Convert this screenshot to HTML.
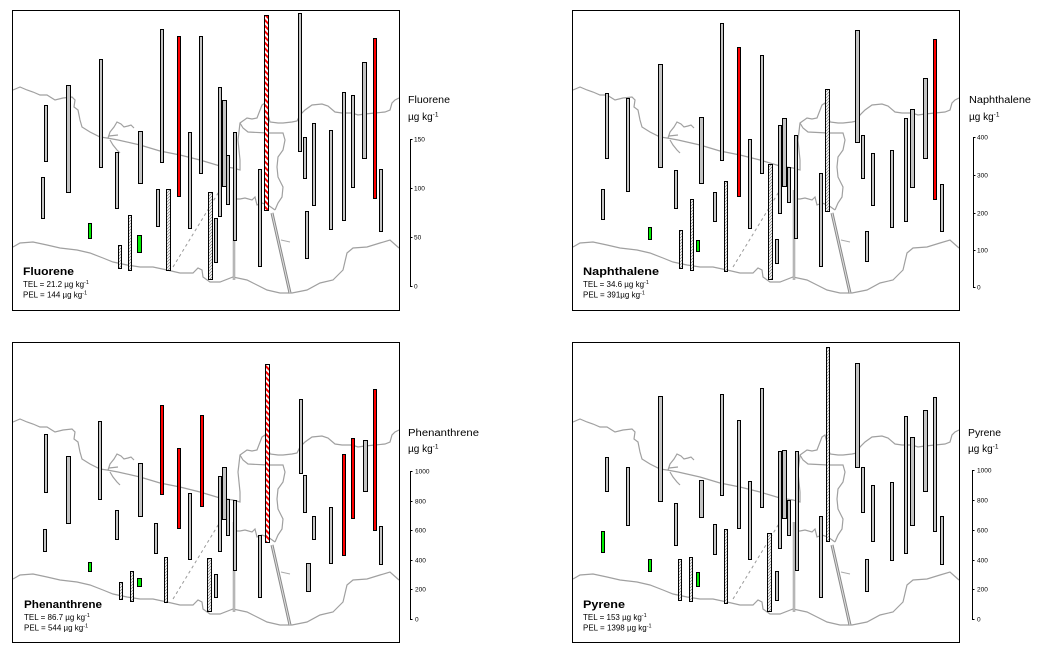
<!DOCTYPE html>
<html><head><meta charset="utf-8"><style>
html,body{margin:0;padding:0;background:#fff;}
svg{display:block;font-family:"Liberation Sans",Arial,sans-serif;}
.g{fill:#c4c4c4;stroke:#000;stroke-width:1}
.r{fill:#ff0000;stroke:#000;stroke-width:1}
.gr{fill:#00ee00;stroke:#000;stroke-width:1}
.h{fill:url(#hatch);stroke:#000;stroke-width:1}
.rh{fill:url(#rhatch);stroke:#000;stroke-width:1}
.map{fill:none;stroke:#a0a0a0;stroke-width:1.2}
.box{fill:none;stroke:#000;stroke-width:1}
.sc{fill:none;stroke:#000;stroke-width:1}
.tk{font-size:6.5px;fill:#000}
.ttl{font-size:11px;font-weight:bold;fill:#000}
.sm{font-size:8px;fill:#000}
.lab{font-size:10px;fill:#000}
</style></head><body>
<svg width="1041" height="659" viewBox="0 0 1041 659" xmlns="http://www.w3.org/2000/svg">
<defs>
<pattern id="hatch" patternUnits="userSpaceOnUse" width="3" height="3">
<rect width="3" height="3" fill="#fff"/>
<path d="M-1,1 L1,-1 M0,3 L3,0 M2,4 L4,2" stroke="#8a8a8a" stroke-width="0.8"/>
</pattern>
<pattern id="rhatch" patternUnits="userSpaceOnUse" width="4" height="4" patternTransform="rotate(-45)">
<rect width="4" height="4" fill="#fff"/>
<rect width="2" height="4" fill="#ff0000"/>
</pattern>
<g id="map">
<path class="map" d="M13,90 L20,87 L27,90 L33,92 L40,95 L47,95 L55,100 L63,98 L72,97 L75,100 L74,107 L78,110 L80,120 L82,127 L90,132 L100,137 L107,138 L118,140 L140,145 L160,151 L180,155 L200,160 L220,166 L233,168 L240,170 L240,160 L238,140 L240,123 L247,118 L252,119 L257,118 L262,105 L265,103 L270,122 L278,123 L283,123 L292,122 L297,121 L300,115 L305,110 L312,105 L322,104 L328,106 L335,112 L342,113 L352,113 L358,115 L365,114 L375,113 L385,112 L390,110 L392,103 L395,100 L399,98"/>
<path class="map" d="M108,138 L110,132 L114,127 L117,122 L121,124 L124,127 L128,126 L131,125 L134,128 M110,140 L113,145 L117,150 L120,153 M109,136 L118,135"/>
<path class="map" d="M240,123 L243,128 L248,132 L268,133 L283,133 L285,140 L283,150 L278,157 L277,167 L278,177 L283,187 L282,197 L278,203 L275,210"/>
<path class="map" d="M233,199 L240,199 L245,198 L252,200 L255,197 L257,205 L262,203 L268,205 L275,210"/>
<path class="map" d="M13,247 L20,243 L33,242 L47,245 L60,248 L77,250 L90,253 L103,258 L113,262 L127,265 L140,267 L153,267 L167,270 L180,273 L193,273 L198,268 L202,270 L203,277 L210,282 L220,282 L233,277 L247,280 L257,285 L267,290 L280,293 L292,293 L307,290 L320,283 L333,280 L343,270 L347,253 L353,248 L367,247 L380,243 L390,240 L399,248"/>
<path d="M173,267 L220,190" stroke="#999" stroke-width="1" stroke-dasharray="3,3" fill="none"/>
<path d="M234,190 L234,280" stroke="#a0a0a0" stroke-width="2.5" fill="none"/>
<path d="M234,190 L234,280" stroke="#d8d8d8" stroke-width="0.8" fill="none"/>
<path d="M272,213 L290,293" stroke="#8a8a8a" stroke-width="3" fill="none"/>
<path d="M272,213 L290,293" stroke="#e0e0e0" stroke-width="1" fill="none"/>
<path d="M281,240 L290,242" stroke="#aaa" stroke-width="1" fill="none"/>
</g>
</defs>
<rect width="1041" height="659" fill="#fff"/>

<use href="#map"/>
<use href="#map" transform="translate(560,0)"/>
<use href="#map" transform="translate(0,332)"/>
<use href="#map" transform="translate(560,332)"/>

<rect class="box" x="12.5" y="10.5" width="387" height="300"/>
<rect class="box" x="572.5" y="10.5" width="387" height="300"/>
<rect class="box" x="12.5" y="342.5" width="387" height="300"/>
<rect class="box" x="572.5" y="342.5" width="387" height="300"/>

<!-- Panel 1 bars -->
<g>
<rect class="g" x="44.5" y="105.5" width="3" height="56"/>
<rect class="g" x="41.5" y="177.5" width="3" height="41"/>
<rect class="g" x="66.5" y="85.5" width="4" height="107"/>
<rect class="g" x="99.5" y="59.5" width="3" height="108"/>
<rect class="g" x="115.5" y="152.5" width="3" height="56"/>
<rect class="g" x="138.5" y="131.5" width="4" height="52"/>
<rect class="g" x="160.5" y="29.5" width="3" height="133"/>
<rect class="g" x="199.5" y="36.5" width="3" height="137"/>
<rect class="g" x="188.5" y="132.5" width="3" height="96"/>
<rect class="g" x="156.5" y="189.5" width="3" height="37"/>
<rect class="g" x="214.5" y="218.5" width="3" height="44"/>
<rect class="g" x="218.5" y="87.5" width="3" height="129"/>
<rect class="g" x="222.5" y="100.5" width="4" height="86"/>
<rect class="g" x="226.5" y="155.5" width="3" height="49"/>
<rect class="g" x="233.5" y="132.5" width="3" height="108"/>
<rect class="g" x="258.5" y="169.5" width="3" height="97"/>
<rect class="g" x="298.5" y="13.5" width="3" height="138"/>
<rect class="g" x="303.5" y="137.5" width="3" height="41"/>
<rect class="g" x="305.5" y="211.5" width="3" height="47"/>
<rect class="g" x="312.5" y="123.5" width="3" height="82"/>
<rect class="g" x="329.5" y="130.5" width="3" height="99"/>
<rect class="g" x="342.5" y="92.5" width="3" height="128"/>
<rect class="g" x="351.5" y="95.5" width="3" height="92"/>
<rect class="g" x="362.5" y="62.5" width="4" height="96"/>
<rect class="g" x="379.5" y="169.5" width="3" height="62"/>
<rect class="r" x="177.5" y="36.5" width="3" height="160"/>
<rect class="r" x="373.5" y="38.5" width="3" height="160"/>
<rect class="gr" x="88.5" y="223.5" width="3" height="15"/>
<rect class="gr" x="137.5" y="235.5" width="4" height="17"/>
<rect class="h" x="118.5" y="245.5" width="3" height="23"/>
<rect class="h" x="128.5" y="215.5" width="3" height="55"/>
<rect class="h" x="166.5" y="189.5" width="4" height="81"/>
<rect class="h" x="208.5" y="192.5" width="4" height="87"/>
<rect class="rh" x="264.5" y="15.5" width="4" height="195"/>
</g>

<!-- Panel 2 bars -->
<g>
<rect class="g" x="605.5" y="93.5" width="3" height="65"/>
<rect class="g" x="601.5" y="189.5" width="3" height="30"/>
<rect class="g" x="626.5" y="98.5" width="3" height="93"/>
<rect class="g" x="658.5" y="64.5" width="4" height="103"/>
<rect class="g" x="674.5" y="170.5" width="3" height="38"/>
<rect class="g" x="699.5" y="117.5" width="4" height="66"/>
<rect class="g" x="713.5" y="192.5" width="3" height="29"/>
<rect class="g" x="720.5" y="23.5" width="3" height="137"/>
<rect class="g" x="748.5" y="139.5" width="3" height="89"/>
<rect class="g" x="760.5" y="55.5" width="3" height="118"/>
<rect class="g" x="775.5" y="239.5" width="3" height="24"/>
<rect class="g" x="778.5" y="125.5" width="3" height="88"/>
<rect class="g" x="782.5" y="118.5" width="4" height="68"/>
<rect class="g" x="787.5" y="167.5" width="3" height="35"/>
<rect class="g" x="794.5" y="135.5" width="3" height="103"/>
<rect class="g" x="819.5" y="173.5" width="3" height="93"/>
<rect class="g" x="855.5" y="30.5" width="4" height="112"/>
<rect class="g" x="861.5" y="135.5" width="3" height="43"/>
<rect class="g" x="865.5" y="231.5" width="3" height="30"/>
<rect class="g" x="871.5" y="153.5" width="3" height="52"/>
<rect class="g" x="890.5" y="150.5" width="3" height="77"/>
<rect class="g" x="904.5" y="118.5" width="3" height="103"/>
<rect class="g" x="910.5" y="109.5" width="4" height="78"/>
<rect class="g" x="923.5" y="78.5" width="4" height="80"/>
<rect class="g" x="940.5" y="184.5" width="3" height="47"/>
<rect class="r" x="737.5" y="47.5" width="3" height="149"/>
<rect class="r" x="933.5" y="39.5" width="3" height="160"/>
<rect class="gr" x="648.5" y="227.5" width="3" height="12"/>
<rect class="gr" x="696.5" y="240.5" width="3" height="11"/>
<rect class="h" x="679.5" y="230.5" width="3" height="38"/>
<rect class="h" x="690.5" y="199.5" width="3" height="71"/>
<rect class="h" x="724.5" y="181.5" width="3" height="90"/>
<rect class="h" x="768.5" y="164.5" width="4" height="115"/>
<rect class="h" x="825.5" y="89.5" width="4" height="122"/>
</g>

<!-- Panel 3 bars -->
<g>
<rect class="g" x="44.5" y="434.5" width="3" height="58"/>
<rect class="g" x="43.5" y="529.5" width="3" height="22"/>
<rect class="g" x="66.5" y="456.5" width="4" height="67"/>
<rect class="g" x="98.5" y="421.5" width="3" height="78"/>
<rect class="g" x="115.5" y="510.5" width="3" height="29"/>
<rect class="g" x="138.5" y="463.5" width="4" height="53"/>
<rect class="g" x="154.5" y="523.5" width="3" height="30"/>
<rect class="g" x="188.5" y="493.5" width="3" height="66"/>
<rect class="g" x="214.5" y="574.5" width="3" height="23"/>
<rect class="g" x="218.5" y="476.5" width="3" height="75"/>
<rect class="g" x="222.5" y="467.5" width="4" height="52"/>
<rect class="g" x="226.5" y="499.5" width="3" height="36"/>
<rect class="g" x="233.5" y="500.5" width="3" height="70"/>
<rect class="g" x="258.5" y="535.5" width="3" height="62"/>
<rect class="g" x="299.5" y="399.5" width="3" height="74"/>
<rect class="g" x="303.5" y="475.5" width="3" height="37"/>
<rect class="g" x="306.5" y="563.5" width="4" height="28"/>
<rect class="g" x="312.5" y="516.5" width="3" height="23"/>
<rect class="g" x="329.5" y="507.5" width="3" height="56"/>
<rect class="g" x="363.5" y="440.5" width="4" height="51"/>
<rect class="g" x="379.5" y="526.5" width="3" height="38"/>
<rect class="r" x="160.5" y="405.5" width="3" height="89"/>
<rect class="r" x="177.5" y="448.5" width="3" height="80"/>
<rect class="r" x="200.5" y="415.5" width="3" height="91"/>
<rect class="r" x="342.5" y="454.5" width="3" height="101"/>
<rect class="r" x="351.5" y="438.5" width="3" height="80"/>
<rect class="r" x="373.5" y="389.5" width="3" height="141"/>
<rect class="gr" x="88.5" y="562.5" width="3" height="9"/>
<rect class="gr" x="137.5" y="578.5" width="4" height="8"/>
<rect class="h" x="119.5" y="582.5" width="3" height="17"/>
<rect class="h" x="130.5" y="571.5" width="3" height="30"/>
<rect class="h" x="164.5" y="557.5" width="3" height="45"/>
<rect class="h" x="207.5" y="558.5" width="4" height="53"/>
<rect class="rh" x="265.5" y="364.5" width="4" height="178"/>
</g>

<!-- Panel 4 bars -->
<g>
<rect class="g" x="605.5" y="457.5" width="3" height="34"/>
<rect class="g" x="626.5" y="467.5" width="3" height="58"/>
<rect class="g" x="658.5" y="396.5" width="4" height="105"/>
<rect class="g" x="674.5" y="503.5" width="3" height="42"/>
<rect class="g" x="699.5" y="480.5" width="4" height="37"/>
<rect class="g" x="713.5" y="524.5" width="3" height="30"/>
<rect class="g" x="720.5" y="394.5" width="3" height="101"/>
<rect class="g" x="737.5" y="420.5" width="3" height="108"/>
<rect class="g" x="748.5" y="481.5" width="3" height="78"/>
<rect class="g" x="760.5" y="388.5" width="3" height="119"/>
<rect class="g" x="775.5" y="571.5" width="3" height="29"/>
<rect class="g" x="778.5" y="451.5" width="3" height="97"/>
<rect class="g" x="782.5" y="450.5" width="4" height="68"/>
<rect class="g" x="787.5" y="500.5" width="3" height="35"/>
<rect class="g" x="795.5" y="451.5" width="3" height="119"/>
<rect class="g" x="819.5" y="516.5" width="3" height="81"/>
<rect class="g" x="855.5" y="363.5" width="4" height="104"/>
<rect class="g" x="861.5" y="467.5" width="3" height="45"/>
<rect class="g" x="865.5" y="559.5" width="3" height="32"/>
<rect class="g" x="871.5" y="485.5" width="3" height="56"/>
<rect class="g" x="890.5" y="482.5" width="3" height="78"/>
<rect class="g" x="904.5" y="416.5" width="3" height="137"/>
<rect class="g" x="910.5" y="437.5" width="4" height="88"/>
<rect class="g" x="923.5" y="410.5" width="4" height="81"/>
<rect class="g" x="933.5" y="397.5" width="3" height="134"/>
<rect class="g" x="940.5" y="516.5" width="3" height="48"/>
<rect class="gr" x="601.5" y="531.5" width="3" height="21"/>
<rect class="gr" x="648.5" y="559.5" width="3" height="12"/>
<rect class="gr" x="696.5" y="572.5" width="3" height="14"/>
<rect class="h" x="678.5" y="559.5" width="3" height="41"/>
<rect class="h" x="689.5" y="557.5" width="3" height="44"/>
<rect class="h" x="724.5" y="529.5" width="3" height="74"/>
<rect class="h" x="767.5" y="533.5" width="4" height="78"/>
<rect class="h" x="826.5" y="347.5" width="3" height="194"/>
</g>

<!-- Scales -->
<path class="sc" d="M412.5,139.5H410.5V286.5H412.5M410.5,188.5H412.5M410.5,237.5H412.5"/>
<text class="tk" x="414" y="141.5">150</text>
<text class="tk" x="414" y="190.5">100</text>
<text class="tk" x="414" y="239.5">50</text>
<text class="tk" x="414" y="288.5">0</text>

<path class="sc" d="M975.5,137.5H973.5V287.5H975.5M973.5,175.5H975.5M973.5,213.5H975.5M973.5,250.5H975.5"/>
<text class="tk" x="977" y="139.5">400</text>
<text class="tk" x="977" y="177.5">300</text>
<text class="tk" x="977" y="215.5">200</text>
<text class="tk" x="977" y="252.5">100</text>
<text class="tk" x="977" y="289.5">0</text>

<path class="sc" d="M412.5,471.5H410.5V619.5H412.5M410.5,501.5H412.5M410.5,530.5H412.5M410.5,560.5H412.5M410.5,589.5H412.5"/>
<text class="tk" x="415" y="473.5">1000</text>
<text class="tk" x="415" y="503.5">800</text>
<text class="tk" x="415" y="532.5">600</text>
<text class="tk" x="415" y="562.5">400</text>
<text class="tk" x="415" y="591.5">200</text>
<text class="tk" x="415" y="621.5">0</text>

<path class="sc" d="M974.5,470.5H972.5V619.5H974.5M972.5,500.5H974.5M972.5,530.5H974.5M972.5,560.5H974.5M972.5,589.5H974.5"/>
<text class="tk" x="977" y="472.5">1000</text>
<text class="tk" x="977" y="502.5">800</text>
<text class="tk" x="977" y="532.5">600</text>
<text class="tk" x="977" y="562.5">400</text>
<text class="tk" x="977" y="591.5">200</text>
<text class="tk" x="977" y="621.5">0</text>

<!-- Right labels -->
<text class="lab" x="408" y="103" textLength="42" lengthAdjust="spacingAndGlyphs">Fluorene</text>
<text class="lab" x="408" y="120">µg kg<tspan font-size="6.5" dy="-3.5">-1</tspan></text>
<text class="lab" x="969" y="103" textLength="62" lengthAdjust="spacingAndGlyphs">Naphthalene</text>
<text class="lab" x="969" y="120">µg kg<tspan font-size="6.5" dy="-3.5">-1</tspan></text>
<text class="lab" x="408" y="436" textLength="71" lengthAdjust="spacingAndGlyphs">Phenanthrene</text>
<text class="lab" x="408" y="452">µg kg<tspan font-size="6.5" dy="-3.5">-1</tspan></text>
<text class="lab" x="968" y="436" textLength="33" lengthAdjust="spacingAndGlyphs">Pyrene</text>
<text class="lab" x="968" y="452">µg kg<tspan font-size="6.5" dy="-3.5">-1</tspan></text>

<!-- Bottom-left labels -->
<text class="ttl" x="23" y="275" textLength="51" lengthAdjust="spacingAndGlyphs">Fluorene</text>
<text class="sm" x="23" y="287">TEL = 21.2 µg kg<tspan font-size="5.5" dy="-3">-1</tspan></text>
<text class="sm" x="23" y="297.5">PEL = 144 µg kg<tspan font-size="5.5" dy="-3">-1</tspan></text>

<text class="ttl" x="583" y="275" textLength="76" lengthAdjust="spacingAndGlyphs">Naphthalene</text>
<text class="sm" x="583" y="287">TEL = 34.6 µg kg<tspan font-size="5.5" dy="-3">-1</tspan></text>
<text class="sm" x="583" y="297.5">PEL = 391µg kg<tspan font-size="5.5" dy="-3">-1</tspan></text>

<text class="ttl" x="24" y="608" textLength="78" lengthAdjust="spacingAndGlyphs">Phenanthrene</text>
<text class="sm" x="24" y="620">TEL = 86.7 µg kg<tspan font-size="5.5" dy="-3">-1</tspan></text>
<text class="sm" x="24" y="630.5">PEL = 544 µg kg<tspan font-size="5.5" dy="-3">-1</tspan></text>

<text class="ttl" x="583" y="608" textLength="42" lengthAdjust="spacingAndGlyphs">Pyrene</text>
<text class="sm" x="583" y="620">TEL = 153 µg kg<tspan font-size="5.5" dy="-3">-1</tspan></text>
<text class="sm" x="583" y="630.5">PEL = 1398 µg kg<tspan font-size="5.5" dy="-3">-1</tspan></text>
</svg>
</body></html>
